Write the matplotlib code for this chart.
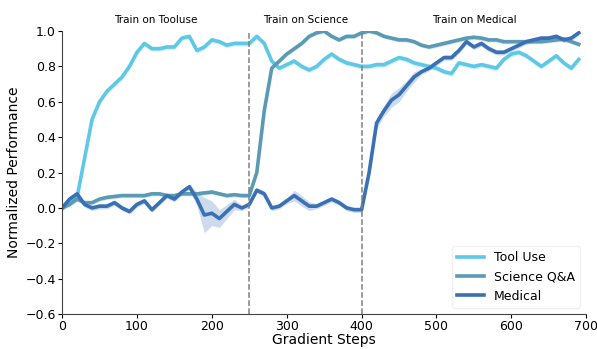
import numpy as np
import matplotlib
matplotlib.use("Agg")
import matplotlib.pyplot as plt

steps = np.arange(0, 700, 10)

tool_use = [0.00, 0.03, 0.06, 0.28, 0.50, 0.60, 0.66, 0.70, 0.74, 0.80,
            0.88, 0.93, 0.90, 0.90, 0.91, 0.91, 0.96, 0.97, 0.89, 0.91,
            0.95, 0.94, 0.92, 0.93, 0.93, 0.93, 0.97, 0.93, 0.83, 0.79,
            0.81, 0.83, 0.80, 0.78, 0.80, 0.84, 0.87, 0.84, 0.82, 0.81,
            0.80, 0.80, 0.81, 0.81, 0.83, 0.85, 0.84, 0.82, 0.81, 0.80,
            0.79, 0.77, 0.76, 0.82, 0.81, 0.80, 0.81, 0.80, 0.79, 0.84,
            0.87, 0.88, 0.86, 0.83, 0.80, 0.83, 0.86, 0.82, 0.79, 0.84]

science = [0.00, 0.02, 0.05, 0.03, 0.03, 0.05, 0.06, 0.065, 0.07, 0.07,
           0.07, 0.07, 0.08, 0.08, 0.07, 0.07, 0.08, 0.08, 0.08, 0.085,
           0.09, 0.08, 0.07, 0.075, 0.07, 0.07, 0.20, 0.55, 0.79, 0.83,
           0.87, 0.90, 0.93, 0.97, 0.99, 1.00, 0.97, 0.95, 0.97, 0.97,
           0.99, 1.00, 0.99, 0.97, 0.96, 0.95, 0.95, 0.94, 0.92, 0.91,
           0.92, 0.93, 0.94, 0.95, 0.96, 0.965, 0.96, 0.95, 0.95, 0.94,
           0.94, 0.94, 0.94, 0.94, 0.94, 0.945, 0.95, 0.955, 0.94, 0.925]

medical = [0.00, 0.05, 0.08, 0.02, 0.00, 0.01, 0.01, 0.03, 0.00, -0.02,
           0.02, 0.04, -0.01, 0.03, 0.07, 0.05, 0.09, 0.12, 0.05, -0.04,
           -0.03, -0.06, -0.02, 0.02, 0.00, 0.02, 0.10, 0.08, 0.00, 0.01,
           0.04, 0.07, 0.04, 0.01, 0.01, 0.03, 0.05, 0.03, 0.00, -0.01,
           -0.01, 0.20, 0.48, 0.55, 0.61, 0.64, 0.69, 0.74, 0.77, 0.79,
           0.82, 0.85, 0.85, 0.89, 0.94, 0.91, 0.93, 0.90, 0.88, 0.88,
           0.90, 0.92, 0.94, 0.95, 0.96, 0.96, 0.97, 0.95, 0.96, 0.99]

# spread of the shaded bands
tool_err = [0.015] * 70
science_err = [0.012] * 70
medical_err = [0.015] * 70
for i, e in zip(range(18, 24), [0.04, 0.10, 0.07, 0.05, 0.04, 0.03]):
    medical_err[i] = e
for i, e in zip(range(31, 34), [0.03, 0.03, 0.025]):
    medical_err[i] = e
for i, e in zip(range(41, 48), [0.03, 0.03, 0.03, 0.04, 0.04, 0.03, 0.03]):
    medical_err[i] = e

phases = ["Train on Tooluse", "Train on Science", "Train on Medical"]
phase_centers = [125, 325, 550]
boundaries = [250, 400]

series = [("Tool Use", tool_use, tool_err, "#5ec8e6"),
          ("Science Q&A", science, science_err, "#5b9ab4"),
          ("Medical", medical, medical_err, "#3a70b4")]

fig = plt.figure(figsize=(5.97, 3.49), dpi=100)
ax = fig.add_axes([0.104, 0.10, 0.878, 0.811])

for name, vals, err, col in series:
    vals = np.array(vals)
    err = np.array(err)
    ax.fill_between(steps, vals - err, vals + err, color=col, alpha=0.25, lw=0)
    ax.plot(steps, vals, color=col, lw=2.6, label=name)

for b in boundaries:
    ax.axvline(b, color="gray", ls="--", lw=1.1)

for txt, c in zip(phases, phase_centers):
    ax.text(c, 1.06, txt, ha="center", va="center", fontsize=7.5)

ax.set_xlim(0, 700)
ax.set_ylim(-0.6, 1.0)
ax.set_xticks(range(0, 701, 100))
ax.set_yticks(np.arange(-0.6, 1.01, 0.2))
ax.set_xlabel("Gradient Steps", fontsize=10, labelpad=0)
ax.set_ylabel("Normalized Performance", fontsize=10, labelpad=3)
ax.tick_params(labelsize=9, pad=1.5, length=3)
ax.spines["top"].set_visible(False)
ax.spines["right"].set_visible(False)
ax.spines["left"].set_color("#444444")
ax.spines["bottom"].set_color("#444444")

ax.legend(loc="lower right", fontsize=9, frameon=True, edgecolor="#eeeeee",
          handlelength=2.2)

plt.savefig("out.png", dpi=100)
